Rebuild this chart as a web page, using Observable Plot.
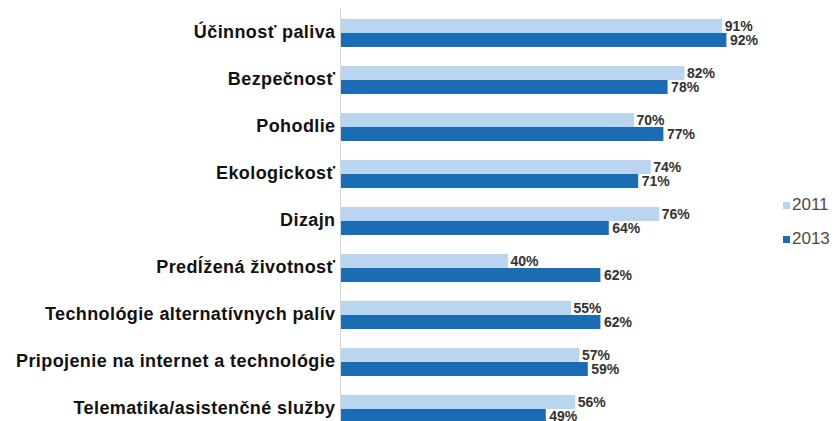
<!DOCTYPE html>
<html>
<head>
<meta charset="utf-8">
<script src="https://cdn.jsdelivr.net/npm/d3@7"></script>
<script src="https://cdn.jsdelivr.net/npm/@observablehq/plot@0.6"></script>
<style>
  html, body { margin: 0; padding: 0; background: #fff; }
  #wrap { position: relative; width: 839px; height: 421px; overflow: hidden; }
  .legend { position: absolute; left: 783px; font-family: "Liberation Sans", Arial, sans-serif; font-size: 17px; color: #4a4a4a; display: flex; align-items: center; }
  .legend span.sw { display: inline-block; width: 7px; height: 7px; margin-right: 2px; }
</style>
</head>
<body>
<div id="wrap"></div>
<script>
const categories = [
  "Účinnosť paliva",
  "Bezpečnosť",
  "Pohodlie",
  "Ekologickosť",
  "Dizajn",
  "Predĺžená životnosť",
  "Technológie alternatívnych palív",
  "Pripojenie na internet a technológie",
  "Telematika/asistenčné služby"
];
const values2011 = [91, 82, 70, 74, 76, 40, 55, 57, 56];
const values2013 = [92, 78, 77, 71, 64, 62, 62, 59, 49];
const years = ["2011", "2013"];
const colors = ["#b9d5f0", "#1a6db5"];

const data = categories.map((c, i) => ({category: c, v2011: values2011[i], v2013: values2013[i]}));

const half = 14;
const chart = Plot.plot({
  width: 839,
  height: 421,
  marginLeft: 340,
  marginRight: 79,
  marginTop: 8,
  marginBottom: 0,
  style: {fontFamily: "'Liberation Sans', Arial, sans-serif", background: "#fff"},
  x: {domain: [0, 100], axis: null},
  y: {domain: categories, range: [-2.5, 444.9], padding: 0.41, axis: null},
  marks: [
    Plot.barX(data, {y: "category", x: "v2011", fill: colors[0], insetBottom: half}),
    Plot.barX(data, {y: "category", x: "v2013", fill: colors[1], insetTop: half}),
    Plot.ruleX([0], {stroke: "#d6d6d6"}),
    Plot.text(data, {y: "category", x: 0, text: "category", textAnchor: "end", dx: -5, dy: -1, fontSize: 18, fontWeight: "bold", fill: "#111"}),
    Plot.text(data, {y: "category", x: "v2011", text: d => d.v2011 + "%", textAnchor: "start", dx: 2, dy: -7, fontSize: 14, fontWeight: "bold", fill: "#333"}),
    Plot.text(data, {y: "category", x: "v2013", text: d => d.v2013 + "%", textAnchor: "start", dx: 3, dy: 7.5, fontSize: 14, fontWeight: "bold", fill: "#333"})
  ]
});
d3.select(chart).selectAll('g[aria-label="text"]').filter((d, i) => i === 0)
  .selectAll("text").attr("letter-spacing", "0.4px");
const wrap = document.getElementById("wrap");
wrap.appendChild(chart);

const legendTops = [195, 229];
years.forEach((y, i) => {
  const d = document.createElement("div");
  d.className = "legend";
  d.style.top = legendTops[i] + "px";
  d.innerHTML = `<span class="sw" style="background:${colors[i]}"></span>${y}`;
  wrap.appendChild(d);
});
</script>
</body>
</html>
